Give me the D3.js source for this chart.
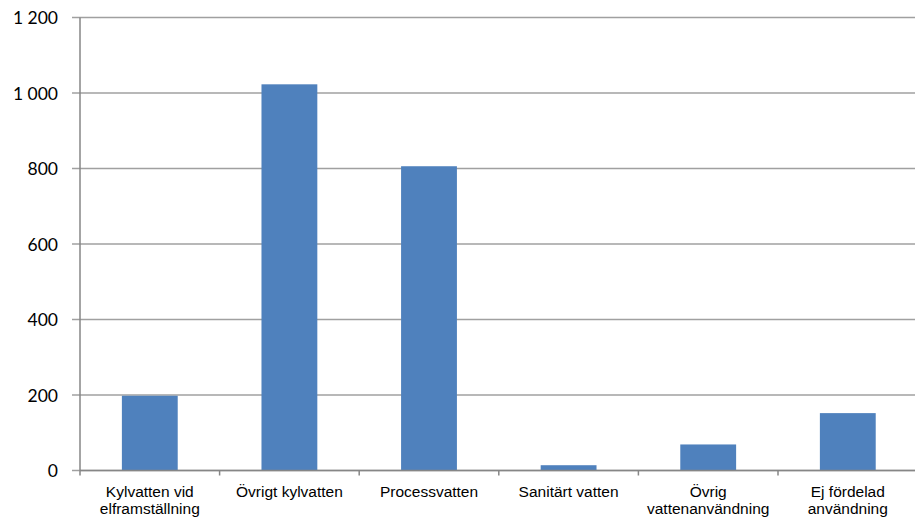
<!DOCTYPE html>
<html>
<head>
<meta charset="utf-8">
<script src="https://cdn.jsdelivr.net/npm/d3@7"></script>
<style>
  body { margin: 0; background: #fff; }
</style>
</head>
<body>
<div class="canvas"></div>
<script>
const categories = [
  ["Kylvatten vid", "elframställning"],
  ["Övrigt kylvatten"],
  ["Processvatten"],
  ["Sanitärt vatten"],
  ["Övrig", "vattenanvändning"],
  ["Ej fördelad", "användning"]
];
const values = [198, 1023, 806, 14, 69, 152];
const yTicks = [0, 200, 400, 600, 800, 1000, 1200];
const yTickLabels = ["0", "200", "400", "600", "800", "1 000", "1 200"];

const width = 915;
const height = 521;

const svg = d3
  .select(".canvas")
  .append("svg")
  .attr("width", width)
  .attr("height", height);

const plotLeft = 80;
const plotRight = 917.6;
const plotTop = 17.5;
const plotBottom = 470.5;

const xScale = d3
  .scaleBand()
  .domain(d3.range(categories.length))
  .range([plotLeft, plotRight])
  .paddingInner(0.6)
  .paddingOuter(0.3);

const yScale = d3.scaleLinear().domain([0, 1200]).range([plotBottom, plotTop]);

// gridlines
svg
  .selectAll(".grid")
  .data(yTicks)
  .enter()
  .append("line")
  .attr("x1", plotLeft - 8)
  .attr("x2", width)
  .attr("y1", (d) => yScale(d))
  .attr("y2", (d) => yScale(d))
  .attr("stroke", "#a0a0a0")
  .attr("stroke-width", 1.3);

// y labels
svg
  .selectAll(".ylab")
  .data(yTicks)
  .enter()
  .append("text")
  .text((d, i) => yTickLabels[i])
  .attr("x", 58)
  .attr("y", (d) => yScale(d) + 6.5)
  .attr("text-anchor", "end")
  .attr("font-family", "Lato, sans-serif")
  .attr("font-size", 17.5)
  .attr("fill", "#000");

// bars
svg
  .selectAll(".bar")
  .data(values)
  .enter()
  .append("rect")
  .attr("x", (d, i) => xScale(i))
  .attr("y", (d) => yScale(d))
  .attr("width", xScale.bandwidth())
  .attr("height", (d) => plotBottom - yScale(d))
  .attr("fill", "#4f81bd");

// y axis line
svg
  .append("line")
  .attr("x1", plotLeft)
  .attr("x2", plotLeft)
  .attr("y1", plotTop)
  .attr("y2", plotBottom)
  .attr("stroke", "#868686")
  .attr("stroke-width", 1.5);

// x axis line
svg
  .append("line")
  .attr("x1", plotLeft)
  .attr("x2", width)
  .attr("y1", plotBottom)
  .attr("y2", plotBottom)
  .attr("stroke", "#868686")
  .attr("stroke-width", 1.5);

// category boundary ticks
const step = xScale.step();
svg
  .selectAll(".xtick")
  .data(d3.range(categories.length))
  .enter()
  .append("line")
  .attr("x1", (d) => xScale(d) - step * 0.3)
  .attr("x2", (d) => xScale(d) - step * 0.3)
  .attr("y1", plotBottom)
  .attr("y2", plotBottom + 5)
  .attr("stroke", "#868686")
  .attr("stroke-width", 1.5);

// x labels
const labels = svg
  .selectAll(".xlab")
  .data(categories)
  .enter()
  .append("text")
  .attr("text-anchor", "middle")
  .attr("font-family", "'Liberation Sans', Arial, sans-serif")
  .attr("font-size", 15.5)
  .attr("fill", "#000");

labels
  .selectAll("tspan")
  .data((d, i) => d.map((t) => ({ t: t, i: i })))
  .enter()
  .append("tspan")
  .attr("x", (d) => xScale(d.i) + xScale.bandwidth() / 2)
  .attr("y", (d, j) => 497 + j * 16.5)
  .text((d) => d.t);
</script>
</body>
</html>
